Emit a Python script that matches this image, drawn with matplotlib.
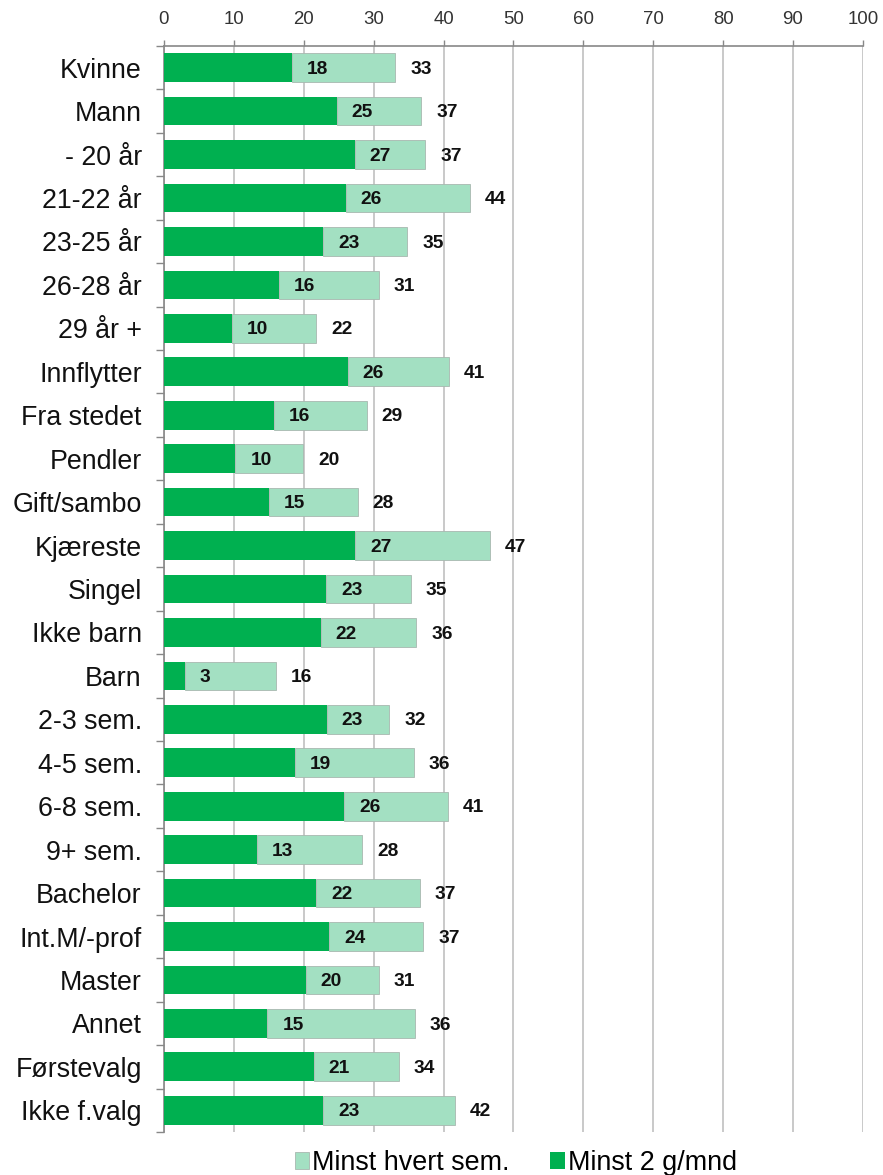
import matplotlib
matplotlib.use("Agg")
import matplotlib.pyplot as plt
import numpy as np
from matplotlib.ticker import MultipleLocator, FixedLocator

plt.rcParams['font.family'] = ['Liberation Sans', 'DejaVu Sans']

categories = ["Kvinne", "Mann", "- 20 år", "21-22 år", "23-25 år", "26-28 år", "29 år +",
              "Innflytter", "Fra stedet", "Pendler", "Gift/sambo", "Kjæreste", "Singel",
              "Ikke barn", "Barn", "2-3 sem.", "4-5 sem.", "6-8 sem.", "9+ sem.",
              "Bachelor", "Int.M/-prof", "Master", "Annet", "Førstevalg", "Ikke f.valg"]
# "Minst 2 g/mnd" (dark green)
monthly = [18.3, 24.7, 27.3, 26.0, 22.8, 16.4, 9.7,
           26.3, 15.7, 10.2, 15.0, 27.4, 23.2,
           22.4, 3.0, 23.3, 18.7, 25.8, 13.3,
           21.8, 23.6, 20.3, 14.8, 21.4, 22.8]
# "Minst hvert sem." cumulative total
semester_total = [33.1, 36.8, 37.4, 43.8, 34.8, 30.7, 21.8,
                  40.8, 29.0, 19.9, 27.7, 46.6, 35.3,
                  36.1, 16.0, 32.2, 35.7, 40.6, 28.4,
                  36.6, 37.1, 30.7, 35.9, 33.6, 41.6]
series_names = ["Minst hvert sem.", "Minst 2 g/mnd"]

dark = np.array(monthly)
total = np.array(semester_total)
light = total - dark
y = np.arange(len(categories))

fig = plt.figure(figsize=(8.83, 11.75), dpi=100)
ax = fig.add_axes([0.1857, 0.0366, 0.7916, 0.9243])

DARK = "#00B050"
LIGHT = "#A3E0C2"
bh = 0.66
b_dark = ax.barh(y, dark, height=bh, color=DARK, edgecolor="none", zorder=3,
                 label=series_names[1])
b_light = ax.barh(y, light, left=dark, height=bh, color=LIGHT, edgecolor="#A8B8B0",
                  linewidth=0.6, zorder=3, label=series_names[0])

off = 15 * 72 / 100  # points
for yi, d, t in zip(y, dark, total):
    for val in (d, t):
        ax.annotate(f"{val:.0f}", xy=(val, yi), xytext=(off, -1.2), textcoords="offset points",
                    ha="left", va="center", fontsize=13.8, fontweight="bold", color="#111111",
                    zorder=4)

ax.set_xlim(0, 100)
ax.set_ylim(len(categories) - 0.5, -0.5)
ax.xaxis.set_major_locator(MultipleLocator(10))
ax.xaxis.tick_top()
ax.tick_params(axis="x", which="major", length=4, width=1, color="#888888",
               labelsize=13.4, labelcolor="#333333", pad=9)
ax.grid(axis="x", color="#C0C0C0", linewidth=1.2, zorder=0)

ax.set_yticks(y)
ax.set_yticklabels(categories, fontsize=19.3, color="#111111")
ax.tick_params(axis="y", which="major", length=0, pad=16)
ax.yaxis.set_minor_locator(FixedLocator(np.arange(-0.5, len(categories) + 0.5, 1)))
ax.tick_params(axis="y", which="minor", length=6, width=1, color="#888888")

for s in ["right", "bottom"]:
    ax.spines[s].set_visible(False)
for s in ["left", "top"]:
    ax.spines[s].set_color("#888888")
    ax.spines[s].set_linewidth(1.2)

fig.legend(handles=[b_light, b_dark], labels=series_names, loc="center",
           bbox_to_anchor=(0.584, 0.0102), ncol=2, frameon=False, fontsize=19.4,
           handlelength=0.55, handleheight=0.55, handletextpad=0.1, columnspacing=1.5,
           borderpad=0)

fig.savefig("out.png", dpi=100)
